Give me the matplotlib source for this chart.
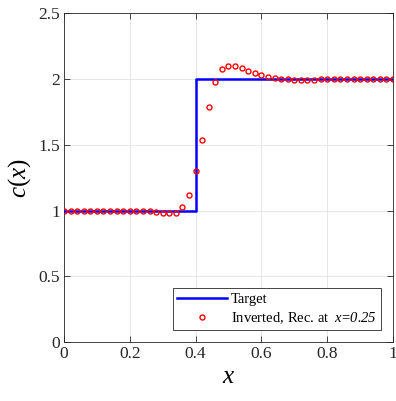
import numpy as np
import matplotlib.pyplot as plt

plt.rcParams['font.family'] = ['Liberation Serif', 'DejaVu Serif']
plt.rcParams['mathtext.fontset'] = 'custom'
plt.rcParams['mathtext.it'] = 'Liberation Serif:italic'
plt.rcParams['mathtext.rm'] = 'Liberation Serif'
# italic face for digits too (the 'it' slot keeps digits upright)
plt.rcParams['mathtext.sf'] = 'Liberation Serif:italic'

# target profile (step)
x_target = [0.0, 0.4, 0.4, 1.0]
c_target = [1.0, 1.0, 2.0, 2.0]

# inverted profile, receiver at x=0.25
x_inv = np.round(np.arange(0, 51) * 0.02, 2)
c_inv = [0.995, 0.995, 0.995, 0.995, 0.996, 0.997, 0.998, 0.998, 0.998, 0.998,
         0.998, 0.997, 0.996, 0.993, 0.988, 0.982, 0.980, 0.985, 1.028, 1.120,
         1.300, 1.540, 1.790, 1.977, 2.074, 2.100, 2.097, 2.082, 2.060, 2.043,
         2.028, 2.018, 2.010, 2.003, 1.998, 1.996, 1.995, 1.995, 1.996, 1.997,
         1.998, 1.999, 2.000, 2.000, 2.000, 2.000, 2.000, 2.000, 2.000, 2.000,
         2.000]

fig = plt.figure(figsize=(3.96, 4.01), dpi=100)
ax = fig.add_axes([0.1616, 0.1471, 0.8308, 0.8197])

ax.plot(x_target, c_target, color='#0000ff', lw=1.8, label='Target', zorder=3)
ax.plot(x_inv, c_inv, 'o', ms=3.6, mfc='none', mec='#ff0000', mew=1.0,
        label=r'Inverted, Rec. at  $\mathsf{x}$=$\mathsf{0.25}$', zorder=4)

ax.set_xlim(0, 1)
ax.set_ylim(0, 2.5)
ax.set_xticks([0, 0.2, 0.4, 0.6, 0.8, 1])
ax.set_xticklabels(['0', '0.2', '0.4', '0.6', '0.8', '1'])
ax.set_yticks([0, 0.5, 1, 1.5, 2, 2.5])
ax.set_yticklabels(['0', '0.5', '1', '1.5', '2', '2.5'])
ax.tick_params(direction='in', labelsize=12.5, length=4, width=0.6,
               top=True, right=True, colors='#262626', pad=3)
ax.grid(True, color='#e6e6e6', lw=0.7)
ax.set_axisbelow(True)
for s in ax.spines.values():
    s.set_linewidth(0.6)
    s.set_color('#262626')

ax.set_xlabel(r'$x$', fontsize=18, labelpad=3)
ax.set_ylabel(r'$c(x)$', fontsize=18, labelpad=4)

leg = ax.legend(loc='lower right', fontsize=10.5, frameon=True, fancybox=False,
                edgecolor='#262626', framealpha=1, borderaxespad=0.8,
                handlelength=3.4, handletextpad=0.3, borderpad=0.3,
                labelspacing=0.3)
leg.get_frame().set_linewidth(0.6)

fig.savefig('out.png', dpi=100)
